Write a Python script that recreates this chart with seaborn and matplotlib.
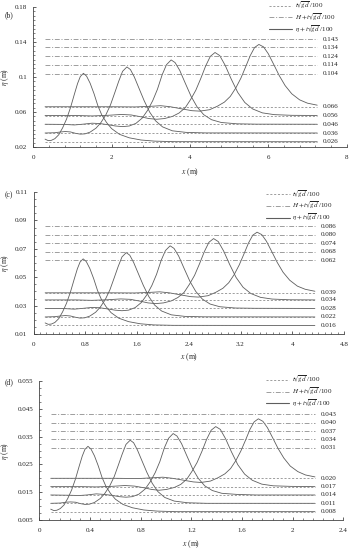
import matplotlib
matplotlib.use("Agg")
import matplotlib.pyplot as plt
from matplotlib.lines import Line2D
from matplotlib.ticker import MultipleLocator
import seaborn as sns

# ---- panel (b) ----
bx1 = [0.30, 0.38, 0.46, 0.55, 0.65, 0.75, 0.85, 0.95, 1.05, 1.13, 1.20, 1.28, 1.36, 1.45, 1.55, 1.65, 1.75, 1.87, 2.00, 2.20, 2.45, 2.75, 3.10, 3.60, 7.25]
by1 = [0.0290, 0.0273, 0.0276, 0.0295, 0.0340, 0.0420, 0.0520, 0.0650, 0.0805, 0.0925, 0.1005, 0.1042, 0.1010, 0.0930, 0.0810, 0.0670, 0.0565, 0.0480, 0.0410, 0.0345, 0.0305, 0.0280, 0.0267, 0.0261, 0.0260]
bx2 = [0.30, 0.55, 0.70, 0.82, 0.95, 1.08, 1.20, 1.32, 1.45, 1.60, 1.72, 1.85, 1.97, 2.08, 2.18, 2.28, 2.39, 2.48, 2.58, 2.70, 2.83, 2.97, 3.12, 3.30, 3.55, 3.90, 4.40, 7.25]
by2 = [0.0360, 0.0363, 0.0372, 0.0377, 0.0372, 0.0356, 0.0347, 0.0350, 0.0370, 0.0415, 0.0475, 0.0565, 0.0680, 0.0820, 0.0950, 0.1065, 0.1115, 0.1085, 0.1000, 0.0870, 0.0730, 0.0600, 0.0500, 0.0430, 0.0385, 0.0367, 0.0361, 0.0360]
bx3 = [0.30, 0.80, 1.05, 1.25, 1.50, 1.70, 1.90, 2.10, 2.28, 2.45, 2.62, 2.78, 2.92, 3.05, 3.17, 3.29, 3.40, 3.52, 3.62, 3.74, 3.88, 4.03, 4.18, 4.35, 4.55, 4.80, 5.20, 5.70, 7.25]
by3 = [0.0460, 0.0458, 0.0452, 0.0460, 0.0472, 0.0468, 0.0455, 0.0440, 0.0433, 0.0440, 0.0470, 0.0530, 0.0620, 0.0730, 0.0860, 0.1025, 0.1140, 0.1195, 0.1165, 0.1075, 0.0930, 0.0778, 0.0660, 0.0570, 0.0512, 0.0480, 0.0465, 0.0461, 0.0460]
bx4 = [0.30, 1.10, 1.50, 1.90, 2.25, 2.50, 2.75, 2.95, 3.15, 3.35, 3.55, 3.72, 3.88, 4.02, 4.15, 4.28, 4.40, 4.52, 4.64, 4.76, 4.90, 5.05, 5.22, 5.40, 5.60, 5.85, 6.15, 6.60, 7.25]
by4 = [0.0560, 0.0560, 0.0555, 0.0562, 0.0572, 0.0566, 0.0545, 0.0525, 0.0517, 0.0525, 0.0549, 0.0588, 0.0649, 0.0745, 0.0849, 0.0987, 0.1125, 0.1236, 0.1280, 0.1245, 0.1133, 0.0980, 0.0824, 0.0709, 0.0635, 0.0590, 0.0570, 0.0562, 0.0560]
bx5 = [0.30, 2.00, 2.60, 3.00, 3.25, 3.50, 3.80, 4.05, 4.25, 4.50, 4.70, 4.88, 5.03, 5.17, 5.30, 5.42, 5.54, 5.65, 5.76, 5.88, 6.00, 6.14, 6.28, 6.43, 6.60, 6.80, 7.00, 7.25]
by5 = [0.0660, 0.0660, 0.0658, 0.0665, 0.0672, 0.0660, 0.0635, 0.0615, 0.0610, 0.0626, 0.0666, 0.0713, 0.0778, 0.0874, 0.0986, 0.1114, 0.1245, 0.1337, 0.1372, 0.1344, 0.1266, 0.1143, 0.1016, 0.0902, 0.0808, 0.0739, 0.0701, 0.0678]
b_base = [0.026, 0.036, 0.046, 0.056, 0.066]
b_top = [0.104, 0.114, 0.124, 0.134, 0.143]

# ---- panel (c) ----
cx1 = [0.18, 0.228, 0.276, 0.33, 0.39, 0.45, 0.51, 0.57, 0.63, 0.678, 0.72, 0.768, 0.816, 0.87, 0.93, 0.99, 1.05, 1.122, 1.20, 1.32, 1.47, 1.65, 1.86, 2.16, 4.35]
cy1 = [0.0178, 0.0168, 0.0170, 0.0181, 0.0208, 0.0256, 0.0316, 0.0394, 0.0487, 0.0559, 0.0607, 0.0629, 0.0610, 0.0562, 0.0490, 0.0406, 0.0343, 0.0292, 0.0250, 0.0211, 0.0187, 0.0172, 0.0164, 0.0161, 0.0160]
cx2 = [0.18, 0.33, 0.42, 0.492, 0.57, 0.648, 0.72, 0.792, 0.87, 0.96, 1.032, 1.11, 1.182, 1.248, 1.308, 1.368, 1.434, 1.488, 1.548, 1.62, 1.698, 1.782, 1.872, 1.98, 2.13, 2.34, 2.64, 4.35]
cy2 = [0.0220, 0.0222, 0.0227, 0.0230, 0.0227, 0.0218, 0.0212, 0.0214, 0.0226, 0.0253, 0.0289, 0.0343, 0.0412, 0.0496, 0.0574, 0.0643, 0.0673, 0.0655, 0.0604, 0.0526, 0.0442, 0.0364, 0.0304, 0.0262, 0.0235, 0.0224, 0.0221, 0.0220]
cx3 = [0.18, 0.48, 0.63, 0.75, 0.90, 1.02, 1.14, 1.26, 1.368, 1.47, 1.572, 1.668, 1.752, 1.83, 1.902, 1.974, 2.04, 2.112, 2.172, 2.244, 2.328, 2.418, 2.508, 2.61, 2.73, 2.88, 3.12, 3.42, 4.35]
cy3 = [0.0280, 0.0279, 0.0275, 0.0280, 0.0287, 0.0285, 0.0277, 0.0268, 0.0264, 0.0268, 0.0286, 0.0322, 0.0376, 0.0442, 0.0520, 0.0619, 0.0688, 0.0721, 0.0703, 0.0649, 0.0562, 0.0471, 0.0400, 0.0346, 0.0311, 0.0292, 0.0283, 0.0281, 0.0280]
cx4 = [0.18, 0.66, 0.90, 1.14, 1.35, 1.50, 1.65, 1.77, 1.89, 2.01, 2.13, 2.232, 2.328, 2.412, 2.49, 2.568, 2.64, 2.712, 2.784, 2.856, 2.94, 3.03, 3.132, 3.24, 3.36, 3.51, 3.69, 3.96, 4.35]
cy4 = [0.0340, 0.0340, 0.0337, 0.0341, 0.0347, 0.0344, 0.0331, 0.0319, 0.0314, 0.0319, 0.0333, 0.0357, 0.0393, 0.0451, 0.0513, 0.0596, 0.0679, 0.0746, 0.0772, 0.0751, 0.0684, 0.0592, 0.0498, 0.0429, 0.0385, 0.0358, 0.0346, 0.0341, 0.0340]
cx5 = [0.18, 1.20, 1.56, 1.80, 1.95, 2.10, 2.28, 2.43, 2.55, 2.70, 2.82, 2.928, 3.018, 3.102, 3.18, 3.252, 3.324, 3.39, 3.456, 3.528, 3.60, 3.684, 3.768, 3.858, 3.96, 4.08, 4.20, 4.35]
cy5 = [0.0390, 0.0390, 0.0389, 0.0393, 0.0397, 0.0390, 0.0375, 0.0363, 0.0360, 0.0370, 0.0394, 0.0422, 0.0461, 0.0518, 0.0586, 0.0662, 0.0741, 0.0796, 0.0817, 0.0800, 0.0754, 0.0680, 0.0604, 0.0535, 0.0479, 0.0437, 0.0415, 0.0401]
c_base = [0.016, 0.022, 0.028, 0.034, 0.039]
c_top = [0.062, 0.068, 0.074, 0.080, 0.086]

# ---- panel (d) ----
dx1 = [0.09, 0.114, 0.138, 0.165, 0.195, 0.225, 0.255, 0.285, 0.315, 0.339, 0.36, 0.384, 0.408, 0.435, 0.465, 0.495, 0.525, 0.561, 0.60, 0.66, 0.735, 0.825, 0.93, 1.08, 2.175]
dy1 = [0.0089, 0.0084, 0.0085, 0.0091, 0.0104, 0.0128, 0.0158, 0.0197, 0.0244, 0.0280, 0.0304, 0.0315, 0.0305, 0.0281, 0.0245, 0.0203, 0.0172, 0.0146, 0.0125, 0.0106, 0.0094, 0.0086, 0.0082, 0.0080, 0.0080]
dx2 = [0.09, 0.165, 0.21, 0.246, 0.285, 0.324, 0.36, 0.396, 0.435, 0.48, 0.516, 0.555, 0.591, 0.624, 0.654, 0.684, 0.717, 0.744, 0.774, 0.81, 0.849, 0.891, 0.936, 0.99, 1.065, 1.17, 1.32, 2.175]
dy2 = [0.0110, 0.0111, 0.0114, 0.0115, 0.0114, 0.0109, 0.0106, 0.0107, 0.0113, 0.0127, 0.0145, 0.0172, 0.0206, 0.0248, 0.0287, 0.0322, 0.0337, 0.0328, 0.0302, 0.0263, 0.0221, 0.0182, 0.0152, 0.0131, 0.0118, 0.0112, 0.0110, 0.0110]
dx3 = [0.09, 0.24, 0.315, 0.375, 0.45, 0.51, 0.57, 0.63, 0.684, 0.735, 0.786, 0.834, 0.876, 0.915, 0.951, 0.987, 1.02, 1.056, 1.086, 1.122, 1.164, 1.209, 1.254, 1.305, 1.365, 1.44, 1.56, 1.71, 2.175]
dy3 = [0.0140, 0.0139, 0.0138, 0.0140, 0.0144, 0.0142, 0.0139, 0.0134, 0.0132, 0.0134, 0.0143, 0.0161, 0.0188, 0.0221, 0.0260, 0.0310, 0.0344, 0.0361, 0.0352, 0.0325, 0.0281, 0.0235, 0.0200, 0.0173, 0.0156, 0.0146, 0.0142, 0.0140, 0.0140]
dx4 = [0.09, 0.33, 0.45, 0.57, 0.675, 0.75, 0.825, 0.885, 0.945, 1.005, 1.065, 1.116, 1.164, 1.206, 1.245, 1.284, 1.32, 1.356, 1.392, 1.428, 1.47, 1.515, 1.566, 1.62, 1.68, 1.755, 1.845, 1.98, 2.175]
dy4 = [0.0170, 0.0170, 0.0169, 0.0171, 0.0174, 0.0172, 0.0166, 0.0160, 0.0157, 0.0160, 0.0167, 0.0178, 0.0197, 0.0226, 0.0257, 0.0298, 0.0340, 0.0373, 0.0386, 0.0376, 0.0342, 0.0296, 0.0249, 0.0215, 0.0193, 0.0179, 0.0173, 0.0171, 0.0170]
dx5 = [0.09, 0.60, 0.78, 0.90, 0.975, 1.05, 1.14, 1.215, 1.275, 1.35, 1.41, 1.464, 1.509, 1.551, 1.59, 1.626, 1.662, 1.695, 1.728, 1.764, 1.80, 1.842, 1.884, 1.929, 1.98, 2.04, 2.10, 2.175]
dy5 = [0.0200, 0.0200, 0.0199, 0.0202, 0.0204, 0.0200, 0.0193, 0.0187, 0.0185, 0.0190, 0.0202, 0.0216, 0.0235, 0.0264, 0.0298, 0.0336, 0.0376, 0.0403, 0.0414, 0.0405, 0.0382, 0.0345, 0.0307, 0.0273, 0.0244, 0.0224, 0.0212, 0.0205]
d_base = [0.008, 0.011, 0.014, 0.017, 0.020]
d_top = [0.031, 0.034, 0.037, 0.040, 0.043]

b_xticks = [0, 2, 4, 6, 8]
b_xlabels = ["0", "2", "4", "6", "8"]
b_yticks = [0.02, 0.06, 0.10, 0.14, 0.18]
b_ylabels = ["0.02", "0.06", "0.1", "0.14", "0.18"]
c_xticks = [0, 0.8, 1.6, 2.4, 3.2, 4.0, 4.8]
c_xlabels = ["0", "0.8", "1.6", "2.4", "3.2", "4", "4.8"]
c_yticks = [0.01, 0.03, 0.05, 0.07, 0.09, 0.11]
c_ylabels = ["0.01", "0.03", "0.05", "0.07", "0.09", "0.11"]
d_xticks = [0, 0.4, 0.8, 1.2, 1.6, 2.0, 2.4]
d_xlabels = ["0", "0.4", "0.8", "1.2", "1.6", "2", "2.4"]
d_yticks = [0.005, 0.015, 0.025, 0.035, 0.045, 0.055]
d_ylabels = ["0.005", "0.015", "0.025", "0.035", "0.045", "0.055"]

# radical sign as plain text keeps each legend line short enough to stack tightly
legend_labels = [r"$t$√$\overline{gd}$ /100", r"$H + t$√$\overline{gd}$ /100", r"$\eta + t$√$\overline{gd}$ /100"]

sns.set_style("ticks")
plt.rcParams["font.family"] = ["Liberation Serif", "DejaVu Serif"]
plt.rcParams["mathtext.fontset"] = "stix"

LINE_COL = "#5e5e5e"
DASH_COL = "#777777"
DASHED = (0, (3, 2.5))
DASHDOT = (0, (7, 2.5, 1.5, 2.5))
W, H = 351, 550


def draw_panel(ax, xs, ys, base, top, x_from, x_to, xt, xl, yt, yl, xmin_step, ymin_step,
               ylab_x, xlab_y, leg_y):
    for x, y in zip(xs, ys):
        sns.lineplot(x=x, y=y, ax=ax, color=LINE_COL, lw=0.6, sort=False, estimator=None)
    ax.hlines(base, x_from, x_to, colors=DASH_COL, linestyles=DASHED, lw=0.5)
    ax.hlines(top, x_from, x_to, colors=DASH_COL, linestyles=DASHDOT, lw=0.5)
    for v in base + top:
        ax.annotate(f"{v:.3f}", xy=(x_to, v), xytext=(4, 0), textcoords="offset points",
                    va="center", ha="left", fontsize=5, color="#222222")

    ax.set_xlim(xt[0], xt[-1])
    ax.set_ylim(yt[0], yt[-1])
    ax.set_xticks(xt)
    ax.set_xticklabels(xl)
    ax.set_yticks(yt)
    ax.set_yticklabels(yl)
    ax.xaxis.set_minor_locator(MultipleLocator(xmin_step))
    ax.yaxis.set_minor_locator(MultipleLocator(ymin_step))
    ax.tick_params(which="major", direction="in", length=2.5, width=0.5, labelsize=5, colors="#222222")
    ax.tick_params(axis="x", which="major", pad=5.5)
    ax.tick_params(axis="y", which="major", pad=4.5)
    ax.tick_params(which="minor", direction="in", length=1.5, width=0.4)
    sns.despine(ax=ax)
    for s in ["left", "bottom"]:
        ax.spines[s].set_linewidth(0.6)
        ax.spines[s].set_color("#444444")

    ax.set_xlabel(r"$x$ (m)", fontsize=5.5)
    ax.set_ylabel(r"$\eta$ (m)", fontsize=5.5)
    ax.xaxis.set_label_coords(0.5, xlab_y)
    ax.yaxis.set_label_coords(ylab_x, 0.5)

    handles = [
        Line2D([], [], color=DASH_COL, lw=0.5, ls=DASHED),
        Line2D([], [], color=DASH_COL, lw=0.5, ls=DASHDOT),
        Line2D([], [], color=LINE_COL, lw=0.8),
    ]
    ax.legend(handles, legend_labels, loc="upper right", bbox_to_anchor=(0.965, leg_y),
              frameon=False, fontsize=5, handlelength=3.4, handletextpad=0.4,
              labelspacing=0.05, borderpad=0, borderaxespad=0)


fig = plt.figure(figsize=(W / 100, H / 100), dpi=100)

ax_b = fig.add_axes([33.3 / W, 1 - 147 / H, 313.3 / W, 140 / H])
draw_panel(ax_b, [bx1, bx2, bx3, bx4, bx5], [by1, by2, by3, by4, by5], b_base, b_top,
           0.30, 7.25, b_xticks, b_xlabels, b_yticks, b_ylabels, 0.4, 0.005, -0.071, -0.136, 1.05)

ax_c = fig.add_axes([33.5 / W, 1 - 334 / H, 310.5 / W, 142 / H])
draw_panel(ax_c, [cx1, cx2, cx3, cx4, cx5], [cy1, cy2, cy3, cy4, cy5], c_base, c_top,
           0.18, 4.35, c_xticks, c_xlabels, c_yticks, c_ylabels, 0.1, 0.005, -0.071, -0.12, 1.025)

ax_d = fig.add_axes([39.3 / W, 1 - 520 / H, 304.2 / W, 139 / H])
draw_panel(ax_d, [dx1, dx2, dx3, dx4, dx5], [dy1, dy2, dy3, dy4, dy5], d_base, d_top,
           0.09, 2.175, d_xticks, d_xlabels, d_yticks, d_ylabels, 0.08, 0.0025, -0.093, -0.13, 1.05)

for tag, ypx in [("(b)", 15), ("(c)", 195), ("(d)", 382)]:
    fig.text(5 / W, 1 - ypx / H, tag, fontsize=5.5, va="center", ha="left")

fig.savefig("out.png", dpi=100)
